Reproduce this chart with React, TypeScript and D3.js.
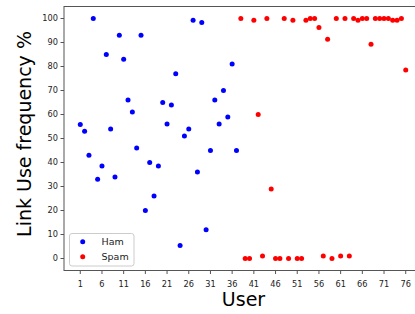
import React from 'react';
import * as d3 from 'd3';

// user index -> link use frequency (%)
const hamUsers = d3.range(1, 38);
const hamValues = [
  55.8, 53, 43, 100, 33, 38.5, 85, 54, 34, 93, 83, 66, 61, 46, 93, 20, 40, 26, 38.5,
  65, 56, 64, 77, 5.4, 51, 54, 99.3, 36, 98.3, 12, 45, 66, 56, 70, 59, 81, 45,
];
const spamUsers = d3.range(38, 77);
const spamValues = [
  100, 0, 0, 99.3, 60, 1, 100, 29, 0, 0, 100, 0, 99.3, 0, 0, 99.3, 100, 100, 96.3, 1,
  91.4, 0, 100, 1, 100, 1, 100, 99.3, 100, 100, 89.3, 100, 100, 100, 100, 99.3, 99.3,
  100, 78.5,
];
const xTicks = d3.range(1, 77, 5);
const yTicks = d3.range(0, 101, 10);

const width = 415;
const height = 314;

const App = () => {
  const x = d3.scaleLinear().domain([-2.75, 79.75]).range([64, 422]);
  const y = d3.scaleLinear().domain([-5, 105]).range([270.5, 6.5]);
  const [x0, x1] = x.range();
  const [y0, y1] = y.range();
  const font = 'DejaVu Sans, sans-serif';

  const ham = hamUsers.map((u, i) => ({ u, v: hamValues[i] }));
  const spam = spamUsers.map((u, i) => ({ u, v: spamValues[i] }));

  return (
    <svg
      width={width}
      height={height}
      style={{ position: 'absolute', left: 0, top: 0, background: '#fff' }}
    >
      {/* frame */}
      <rect x={x0} y={y1} width={x1 - x0} height={y0 - y1} fill="none" stroke="#555" strokeWidth={1} />

      {/* y axis */}
      {yTicks.map((t) => (
        <g key={'y' + t}>
          <line x1={x0 - 3.5} x2={x0} y1={y(t)} y2={y(t)} stroke="#555" />
          <text x={x0 - 6} y={y(t)} dy="0.35em" textAnchor="end" fontSize={8.2} fontFamily={font} fill="#222">
            {t}
          </text>
        </g>
      ))}

      {/* x axis */}
      {xTicks.map((t) => (
        <g key={'x' + t}>
          <line x1={x(t)} x2={x(t)} y1={y0} y2={y0 + 3.5} stroke="#555" />
          <text x={x(t)} y={286.5} textAnchor="middle" fontSize={8.2} fontFamily={font} fill="#222">
            {t}
          </text>
        </g>
      ))}

      {/* points */}
      {ham.map((d) => (
        <circle key={'h' + d.u} cx={x(d.u)} cy={y(d.v)} r={2.5} fill="#0000ff" />
      ))}
      {spam.map((d) => (
        <circle key={'s' + d.u} cx={x(d.u)} cy={y(d.v)} r={2.5} fill="#ff0000" />
      ))}

      {/* legend */}
      <rect x={69.5} y={233.5} width={64.5} height={32.5} rx={2.5} fill="#fff" fillOpacity={0.8} stroke="#ccc" />
      <circle cx={82.7} cy={241.7} r={2.5} fill="#0000ff" />
      <circle cx={82.7} cy={256.7} r={2.5} fill="#ff0000" />
      <text x={101.5} y={241.7} dy="0.35em" fontSize={9.5} fontFamily={font} fill="#222">Ham</text>
      <text x={101.5} y={256.7} dy="0.35em" fontSize={9.5} fontFamily={font} fill="#222">Spam</text>

      {/* axis labels */}
      <text x={243.5} y={306} textAnchor="middle" fontSize={19} fontFamily={font} fill="#000">
        User
      </text>
      <text
        transform={`translate(31,134) rotate(-90)`}
        textAnchor="middle"
        fontSize={19}
        fontFamily={font}
        fill="#000"
      >
        Link Use frequency %
      </text>
    </svg>
  );
};

export default App;
